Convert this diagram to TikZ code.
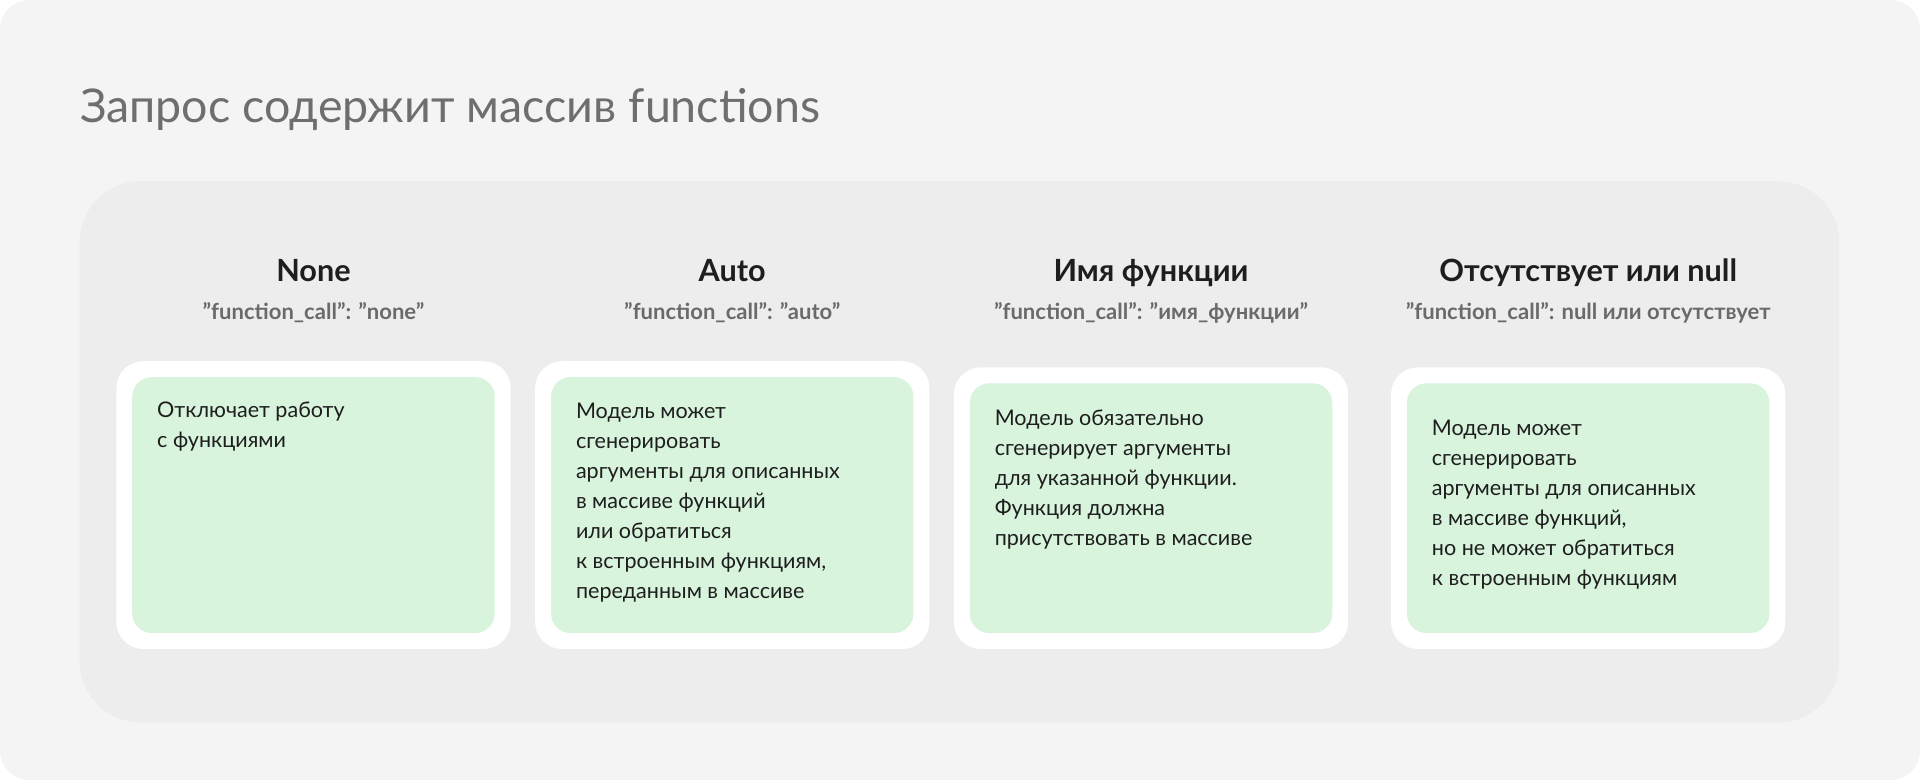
\documentclass[tikz,border=0pt]{standalone}
\usepackage{fontspec}
\setmainfont{Lato}
\definecolor{bgout}{HTML}{F4F4F4}
\definecolor{bgin}{HTML}{EDEDED}
\definecolor{cardg}{HTML}{D8F4DC}
\definecolor{titleg}{HTML}{6E6E6E}
\definecolor{codeg}{HTML}{6A6A6A}
\definecolor{txt}{HTML}{1E1E1E}
\tikzset{
  outercard/.style={fill=white,rounded corners=11pt},
  innercard/.style={fill=cardg,rounded corners=8pt},
  head/.style={font=\fontsize{12.5}{15}\selectfont\bfseries,text=txt,anchor=base},
  code/.style={font=\fontsize{9}{11}\selectfont\bfseries,text=codeg,anchor=base},
  body/.style={font=\fontsize{8.8}{12.25}\selectfont,text=txt,align=left,anchor=north west,inner sep=0pt},
}
\begin{document}
\begin{tikzpicture}[x=0.5pt,y=-0.5pt]
\useasboundingbox (0,0) rectangle (1568,637);
\fill[white] (0,0) rectangle (1568,637);
\fill[bgout,rounded corners=12pt] (0,0) rectangle (1568,637);
\node[font=\fontsize{19}{22}\selectfont,text=titleg,anchor=base west,inner sep=0pt] (title) at (65,100) {Запрос содержит массив functions};
\fill[bgin,rounded corners=25pt] (65,148) rectangle (1502,590);
% headings
\node[head] (h1) at (256,230) {None};
\node[head] (h2) at (598,230) {Auto};
\node[head] (h3) at (940,230) {Имя функции};
\node[head] (h4) at (1297,230) {Отсутствует или null};
\node[code] (c1) at (256,261) {"function\_call": "none"};
\node[code] (c2) at (598,261) {"function\_call": "auto"};
\node[code] (c3) at (940,261) {"function\_call": "имя\_функции"};
\node[code] (c4) at (1297,261) {"function\_call": null или отсутствует};
% cards
\fill[outercard] (95,295) rectangle (417,530);
\fill[innercard] (108,308) rectangle (404,517);
\fill[outercard] (437,295) rectangle (759,530);
\fill[innercard] (450,308) rectangle (746,517);
\fill[outercard] (779,300) rectangle (1101,530);
\fill[innercard] (792,313) rectangle (1088,517);
\fill[outercard] (1136,300) rectangle (1458,530);
\fill[innercard] (1149,313) rectangle (1445,517);
\node[body] (t1) at (128,328) {Отключает работу\\с функциями};
\node[body] (t2) at (470,329) {Модель может\\сгенерировать\\аргументы для описанных\\в массиве функций\\или обратиться\\к встроенным функциям,\\переданным в массиве};
\node[body] (t3) at (812,334) {Модель обязательно\\сгенерирует аргументы\\для указанной функции.\\Функция должна\\присутствовать в массиве};
\node[body] (t4) at (1169,343) {Модель может\\сгенерировать\\аргументы для описанных\\в массиве функций,\\но не может обратиться\\к встроенным функциям};
\end{tikzpicture}
\end{document}
